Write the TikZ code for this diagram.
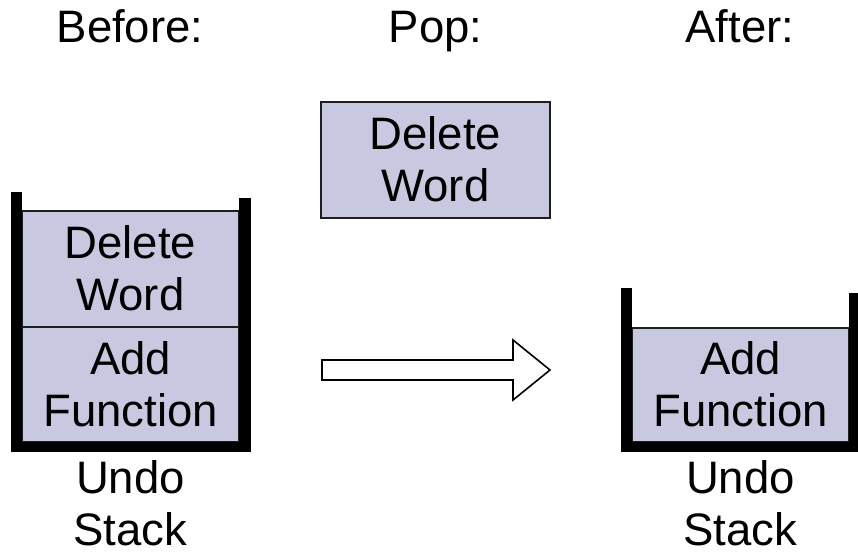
\documentclass[tikz,border=0pt]{standalone}
\usepackage{fontspec}
\setmainfont{Liberation Sans}
\definecolor{itemfill}{RGB}{200,200,224}
\definecolor{boxline}{RGB}{30,30,30}
\begin{document}
\begin{tikzpicture}[x=1pt,y=-1pt,
  txt/.style={font=\fontsize{45.5}{52}\selectfont,align=center,inner sep=0pt},
  item/.style={fill=itemfill,draw=boxline,line width=1.6pt},
  wall/.style={fill=black,draw=none},
  bigarrow/.style={fill=white,draw=black,line width=1.6pt,line join=miter}]
\useasboundingbox (0,0) rectangle (858,553);

% column titles
\node[txt,anchor=base] (tbefore) at (130,43) {Before:};
\node[txt,anchor=base] (tpop) at (435.5,43) {Pop:};
\node[txt,anchor=base] (tafter) at (740,43) {After:};

% --- undo stack before the pop ---
\draw[item] (22,211) rectangle (239,327);
\draw[item] (22,327) rectangle (239,442);
\fill[wall] (11,192) rectangle (22,452);
\fill[wall] (239,198) rectangle (251,452);
\fill[wall] (11,442) rectangle (251,452);
\node[txt] (bdel) at (130.5,268) {Delete\\Word};
\node[txt] (badd) at (130.5,384) {Add\\Function};
\node[txt] (bund) at (130.5,503) {Undo\\Stack};

% --- popped entry ---
\draw[item] (321,102) rectangle (550,218);
\node[txt] (pdel) at (435.5,159) {Delete\\Word};

% --- block arrow ---
\draw[bigarrow] (322,360) -- (513,360) -- (513,340) -- (550,370) -- (513,400)
  -- (513,380) -- (322,380) -- cycle;

% --- undo stack after the pop ---
\draw[item] (632,328) rectangle (849,442);
\fill[wall] (621,288) rectangle (632,452);
\fill[wall] (849,293) rectangle (861,452);
\fill[wall] (621,442) rectangle (861,452);
\node[txt] (aadd) at (740.5,384) {Add\\Function};
\node[txt] (aund) at (740.5,503) {Undo\\Stack};
\end{tikzpicture}
\end{document}
